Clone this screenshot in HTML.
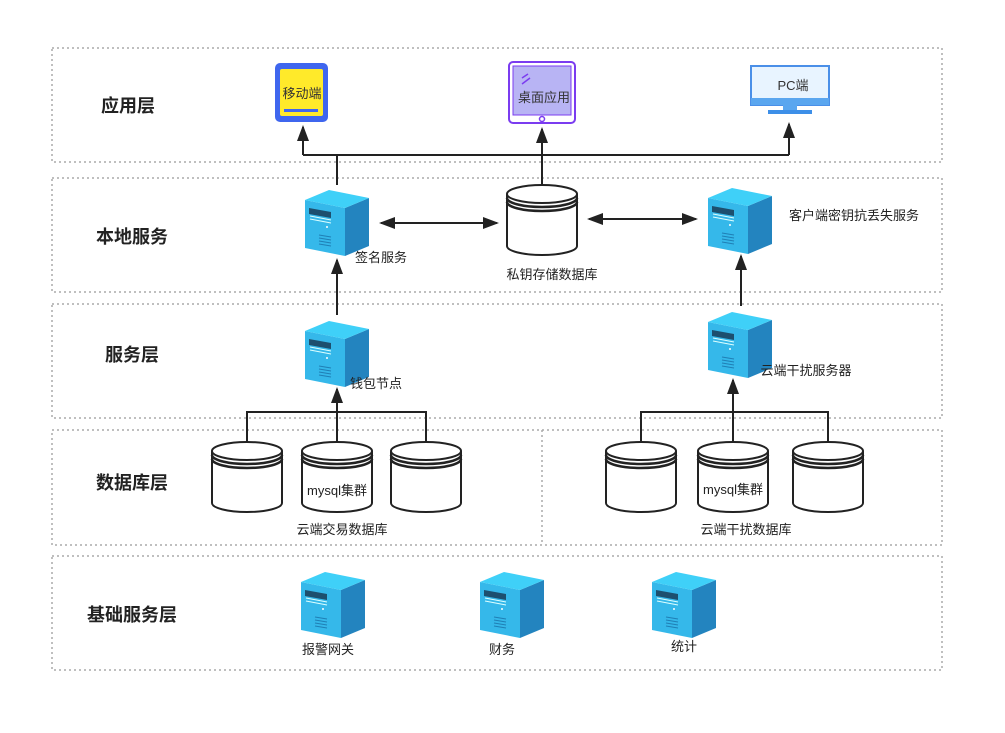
<!DOCTYPE html>
<html><head><meta charset="utf-8"><style>
body{margin:0;background:#fff;}
svg{display:block;font-family:"Liberation Sans","Noto Sans CJK SC",sans-serif;}
</style></head><body>
<svg width="1005" height="733" viewBox="0 0 1005 733" xmlns="http://www.w3.org/2000/svg">
<defs>
<g id="srv">
<polygon points="0,10 40,18 40,66 0,58" fill="#35b8ea"/>
<polygon points="40,18 64,8 64,56 40,66" fill="#2384bf"/>
<polygon points="0,10 24,0 64,8 40,18" fill="#3fd0f8"/>
<polygon points="4,18 26,22 26,28 4,24" fill="#1d4f6e"/>
<line x1="5" y1="26" x2="26" y2="30" stroke="#dff" stroke-width="1"/>
<line x1="5" y1="29" x2="26" y2="33" stroke="#dff" stroke-width="1"/>
<line x1="14" y1="45" x2="26" y2="47" stroke="#1f7fb5" stroke-width="1"/>
<line x1="14" y1="48" x2="26" y2="50" stroke="#1f7fb5" stroke-width="1"/>
<line x1="14" y1="51" x2="26" y2="53" stroke="#1f7fb5" stroke-width="1"/>
<line x1="14" y1="54" x2="26" y2="56" stroke="#1f7fb5" stroke-width="1"/>
<circle cx="22" cy="37" r="1" fill="#fff"/>
</g>
<g id="cyl" fill="#fff" stroke="#222" stroke-width="2">
<path d="M-35,9 L-35,61 A35,9 0 0 0 35,61 L35,9"/>
<ellipse cx="0" cy="9" rx="35" ry="9"/>
<path d="M-35,13 A35,9 0 0 0 35,13" fill="none" stroke-width="2.5"/>
<path d="M-35,17 A35,9 0 0 0 35,17" fill="none" stroke-width="2.5"/>
</g>
<marker id="ah" markerWidth="16" markerHeight="12" refX="14" refY="6" orient="auto" markerUnits="userSpaceOnUse">
<polygon points="0,0 16,6 0,12" fill="#222"/>
</marker>
<marker id="ahs" markerWidth="16" markerHeight="12" refX="14" refY="6" orient="auto-start-reverse" markerUnits="userSpaceOnUse">
<polygon points="0,0 16,6 0,12" fill="#222"/>
</marker>
</defs>
<g fill="none" stroke="#aaa" stroke-width="1.5" stroke-dasharray="2,3">
<rect x="52" y="48" width="890" height="114"/>
<rect x="52" y="178" width="890" height="114"/>
<rect x="52" y="304" width="890" height="114"/>
<rect x="52" y="430" width="890" height="115"/>
<line x1="542" y1="430" x2="542" y2="545"/>
<rect x="52" y="556" width="890" height="114"/>
</g>
<g font-size="18" font-weight="bold" fill="#222" text-anchor="middle">
<text x="128" y="112">应用层</text>
<text x="132" y="243">本地服务</text>
<text x="132" y="361">服务层</text>
<text x="132" y="489">数据库层</text>
<text x="132" y="621">基础服务层</text>
</g>
<rect x="275" y="63" width="53" height="59" rx="5" fill="#3f66ee"/>
<rect x="280" y="69" width="43" height="47" rx="2" fill="#ffea2a"/>
<rect x="284" y="109" width="34" height="3" fill="#3f66ee"/>
<text x="302" y="98" font-size="13" text-anchor="middle" fill="#333">移动端</text>
<rect x="509" y="62" width="66" height="61" rx="4" fill="#fff" stroke="#7b3cf0" stroke-width="2"/>
<rect x="513" y="66" width="58" height="49" fill="#b8b4f4" stroke="#7b3cf0" stroke-width="1"/>
<circle cx="542" cy="119" r="2.5" fill="none" stroke="#7b3cf0" stroke-width="1.5"/>
<line x1="522" y1="78" x2="528" y2="74" stroke="#7b3cf0" stroke-width="1.5"/>
<line x1="522" y1="84" x2="530" y2="78" stroke="#7b3cf0" stroke-width="1.5"/>
<text x="544" y="102" font-size="13" text-anchor="middle" fill="#333">桌面应用</text>
<rect x="751" y="66" width="78" height="39" fill="#e8f4ff" stroke="#4a8fe8" stroke-width="2"/>
<rect x="751" y="98" width="78" height="7" fill="#5aa6ef"/>
<rect x="783" y="105" width="14" height="6" fill="#5aa6ef"/>
<rect x="768" y="110" width="44" height="4" fill="#3d8fe8"/>
<text x="793" y="90" font-size="13" text-anchor="middle" fill="#333">PC端</text>
<g stroke="#222" stroke-width="2" fill="none">
<polyline points="303,155 789,155"/>
<line x1="303" y1="155" x2="303" y2="127" marker-end="url(#ah)"/>
<line x1="789" y1="155" x2="789" y2="124" marker-end="url(#ah)"/>
<line x1="337" y1="155" x2="337" y2="185"/>
<line x1="542" y1="185" x2="542" y2="129" marker-end="url(#ah)"/>
<line x1="381" y1="223" x2="497" y2="223" marker-start="url(#ahs)" marker-end="url(#ahs)"/>
<line x1="589" y1="219" x2="696" y2="219" marker-start="url(#ahs)" marker-end="url(#ahs)"/>
<line x1="337" y1="315" x2="337" y2="260" marker-end="url(#ah)"/>
<line x1="741" y1="306" x2="741" y2="256" marker-end="url(#ah)"/>
<polyline points="247,444 247,412 426,412 426,444"/>
<line x1="337" y1="444" x2="337" y2="389" marker-end="url(#ah)"/>
<polyline points="641,444 641,412 828,412 828,444"/>
<line x1="733" y1="444" x2="733" y2="380" marker-end="url(#ah)"/>
</g>
<use href="#srv" x="305" y="190"/>
<use href="#srv" x="305" y="321"/>
<use href="#srv" x="708" y="188"/>
<use href="#srv" x="708" y="312"/>
<use href="#srv" x="301" y="572"/>
<use href="#srv" x="480" y="572"/>
<use href="#srv" x="652" y="572"/>
<use href="#cyl" x="542" y="185"/>
<use href="#cyl" x="247" y="442"/>
<use href="#cyl" x="337" y="442"/>
<use href="#cyl" x="426" y="442"/>
<use href="#cyl" x="641" y="442"/>
<use href="#cyl" x="733" y="442"/>
<use href="#cyl" x="828" y="442"/>
<g font-size="13" fill="#222" text-anchor="middle">
<text x="381" y="262">签名服务</text>
<text x="552" y="279">私钥存储数据库</text>
<text x="854" y="220">客户端密钥抗丢失服务</text>
<text x="376" y="388">钱包节点</text>
<text x="806" y="375">云端干扰服务器</text>
<text x="337" y="495">mysql集群</text>
<text x="733" y="494">mysql集群</text>
<text x="342" y="534">云端交易数据库</text>
<text x="746" y="534">云端干扰数据库</text>
<text x="328" y="654">报警网关</text>
<text x="502" y="654">财务</text>
<text x="684" y="651">统计</text>
</g>
</svg>
</body></html>
